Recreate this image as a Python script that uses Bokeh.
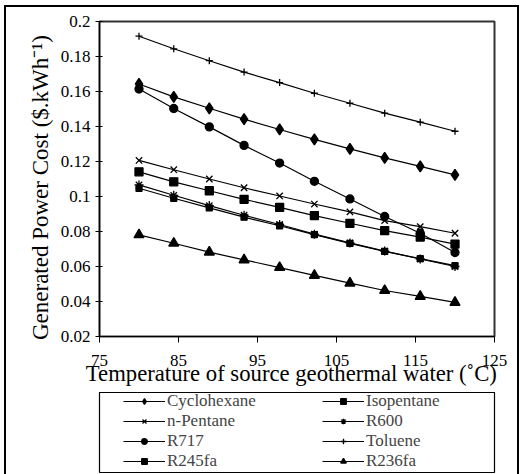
from bokeh.plotting import figure
from bokeh.layouts import column
from bokeh.models import Range1d, FixedTicker, CustomJSTickFormatter, Legend, LegendItem
from bokeh.embed import file_html
from bokeh.resources import INLINE

# ---- data ----
temperature = [80, 84.4, 88.9, 93.3, 97.8, 102.2, 106.7, 111.1, 115.6, 120]
cyclohexane = [0.1643, 0.1569, 0.1504, 0.1442, 0.1383, 0.1326, 0.1272, 0.1221, 0.1172, 0.1124]
isopentane = [0.1141, 0.1084, 0.1033, 0.0984, 0.0938, 0.0891, 0.0847, 0.0805, 0.0768, 0.0728]
n_pentane = [0.1206, 0.1153, 0.1100, 0.1050, 0.1003, 0.0957, 0.0912, 0.0862, 0.0828, 0.0790]
r600 = [0.1066, 0.1007, 0.0948, 0.0893, 0.0840, 0.0785, 0.0735, 0.0688, 0.0643, 0.0600]
r717 = [0.1614, 0.1503, 0.1398, 0.1292, 0.1191, 0.1087, 0.0986, 0.0886, 0.0790, 0.0680]
toluene = [0.1916, 0.1844, 0.1776, 0.1711, 0.1651, 0.1590, 0.1533, 0.1476, 0.1425, 0.1373]
r245fa = [0.1047, 0.0990, 0.0935, 0.0882, 0.0833, 0.0782, 0.0732, 0.0686, 0.0645, 0.0605]
r236fa = [0.0781, 0.0733, 0.0682, 0.0638, 0.0594, 0.0549, 0.0505, 0.0463, 0.0429, 0.0395]

x_ticks = [75, 85, 95, 105, 115, 125]
y_ticks = [0.02, 0.04, 0.06, 0.08, 0.1, 0.12, 0.14, 0.16, 0.18, 0.2]

series = [
    ("Cyclohexane", cyclohexane, "diamond", 11),
    ("Isopentane", isopentane, "square", 8),
    ("n-Pentane", n_pentane, "x", 9),
    ("R600", r600, "asterisk", 9),
    ("R717", r717, "circle", 8),
    ("Toluene", toluene, "cross", 7),
    ("R245fa", r245fa, "square", 6),
    ("R236fa", r236fa, "triangle", 10),
]

FONT = "Liberation Serif"
NB = "\u00a0"

p = figure(width=511, height=385, output_backend="svg", toolbar_location=None,
           x_range=Range1d(75, 125), y_range=Range1d(0.02, 0.2),
           min_border_left=86, min_border_right=18, min_border_top=14, min_border_bottom=56)
p.grid.visible = False
p.outline_line_color = "#333333"
p.outline_line_width = 2

xa = p.xaxis[0]
ya = p.yaxis[0]
for ax in (xa, ya):
    ax.axis_line_color = "black"
    ax.axis_line_width = 1.2
    ax.major_tick_line_color = "black"
    ax.minor_tick_line_color = None
    ax.major_label_text_color = "black"
    ax.major_label_text_font = FONT
    ax.major_label_text_font_size = "17px"
    ax.axis_label_text_font = FONT
    ax.axis_label_text_font_style = "normal"
    ax.axis_label_text_color = "black"

xa.ticker = FixedTicker(ticks=x_ticks)
ya.ticker = FixedTicker(ticks=y_ticks)
ya.formatter = CustomJSTickFormatter(code="return String(Math.round(tick*100)/100);")
xa.major_tick_out = 6
xa.major_tick_in = 0
ya.major_tick_out = 4
ya.major_tick_in = 3
xa.major_label_standoff = 12
ya.major_label_standoff = 5
xa.axis_label = "Temperature of  source geothermal water (\u02daC)" + NB
xa.axis_label_text_font_size = "22.7px"
xa.axis_label_standoff = -8
ya.axis_label = "Generated Power Cost ($.kWh\u207b\u00b9)" + NB * 3
ya.axis_label_text_font_size = "23px"
ya.axis_label_standoff = 5

for name, vals, marker, size in series:
    p.line(temperature, vals, line_color="black", line_width=1.2)
    p.scatter(temperature, vals, marker=marker, size=size,
              fill_color="black", line_color="black", line_width=1.3)

# ---- legend panel (its frame outline is the legend box) ----
lg = figure(width=511, height=82, output_backend="svg", toolbar_location=None,
            x_range=Range1d(0, 1), y_range=Range1d(0, 1),
            x_axis_location=None, y_axis_location=None,
            min_border_left=93, min_border_right=23, min_border_top=0, min_border_bottom=2)
lg.grid.visible = False
lg.outline_line_color = "black"
lg.outline_line_width = 1.2

items = {}
for name, vals, marker, size in series:
    ln = lg.line([-5, -4], [-5, -4], line_color="black", line_width=1.2)
    sc = lg.scatter([-5], [-5], marker=marker, size=size,
                    fill_color="black", line_color="black", line_width=1.3)
    items[name] = LegendItem(label=name, renderers=[ln, sc])

order = ["Cyclohexane", "n-Pentane", "R717", "R245fa",
         "Isopentane", "R600", "Toluene", "R236fa"]
legend = Legend(items=[items[n] for n in order], ncols=2,
                location=(24, 1), orientation="vertical",
                label_text_font=FONT, label_text_font_size="17px",
                label_height=18, glyph_height=14, glyph_width=42,
                label_standoff=2, label_width=155, spacing=0, padding=0, margin=0,
                border_line_alpha=0, background_fill_alpha=0)
lg.add_layout(legend, "center")

layout = column(p, lg, spacing=0,
                styles={"border-left": "2px solid black", "border-right": "2px solid black",
                        "border-top": "2px solid black",
                        "margin-left": "4px", "margin-top": "5px"})

open("out.html", "w").write(file_html(layout, INLINE))
